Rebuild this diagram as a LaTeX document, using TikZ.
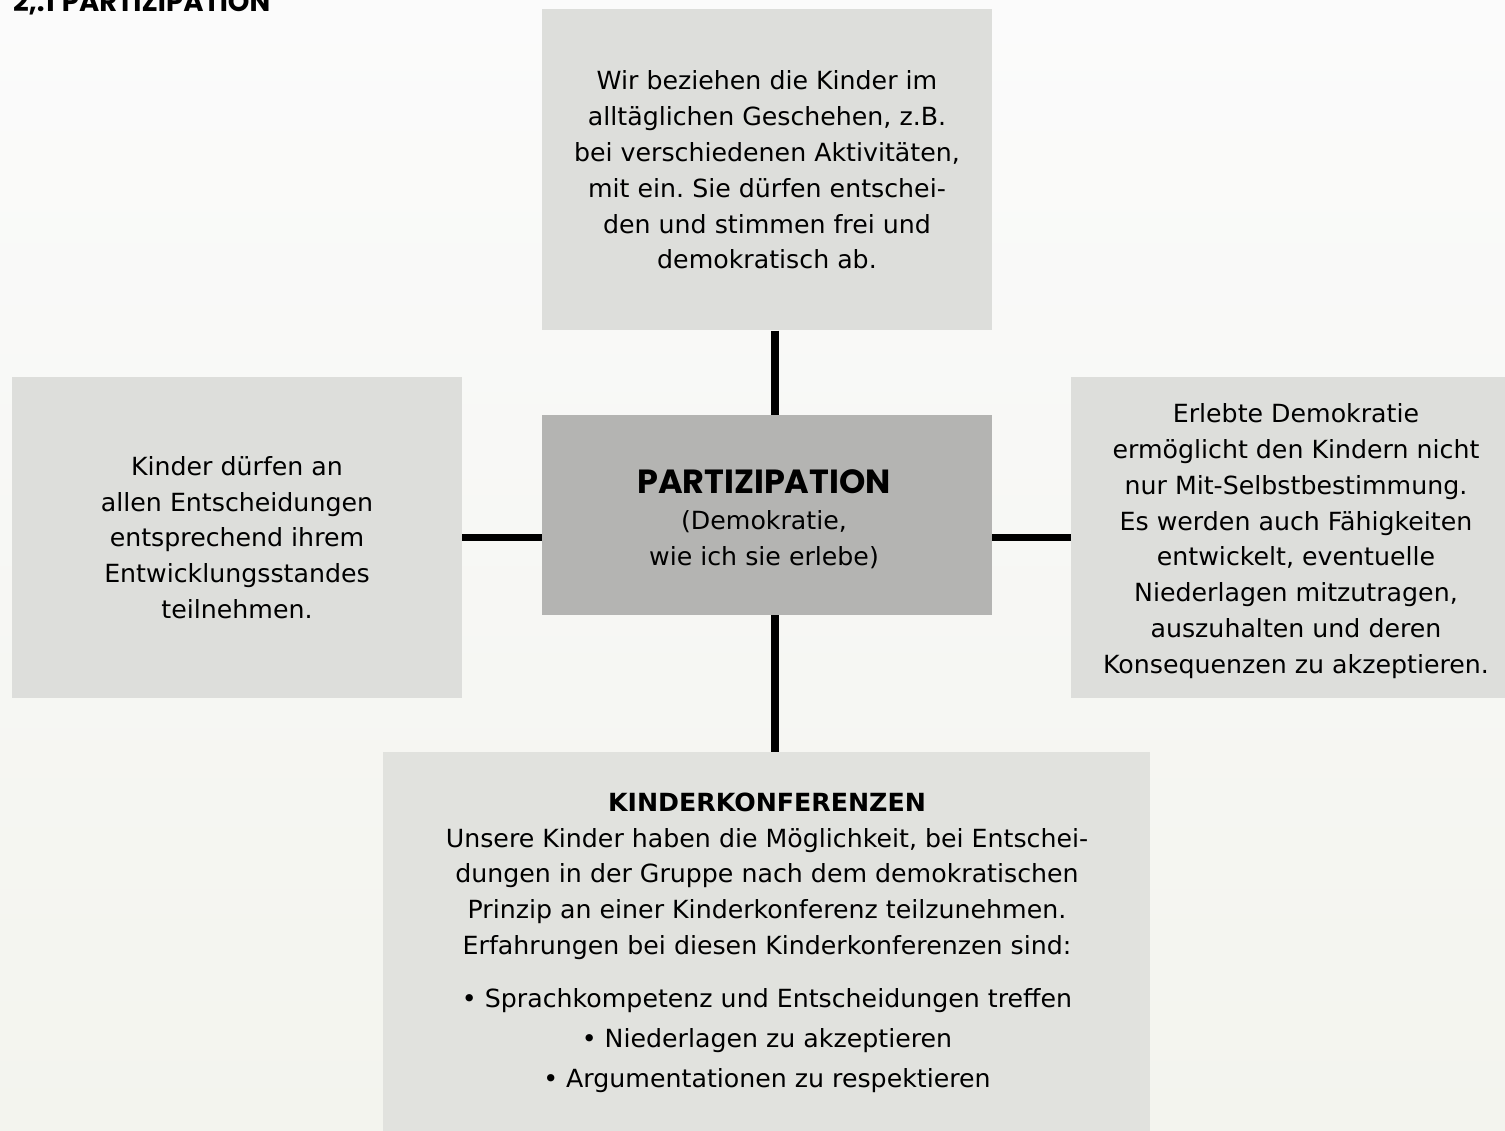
\documentclass[tikz,border=0pt]{standalone}
\usepackage{fontspec}
\setmainfont{DejaVu Sans}[FakeStretch=1.01]
\newfontfamily\gothic{Poppins}
\usetikzlibrary{calc}
\definecolor{bgtop}{RGB}{251,251,251}
\definecolor{bgbot}{RGB}{243,244,238}
\definecolor{boxlight}{RGB}{221,222,219}
\definecolor{boxbottom}{RGB}{225,226,222}
\definecolor{boxdark}{RGB}{180,180,178}
\tikzset{
  txt/.style={font=\frenchspacing\fontsize{25}{35.8}\selectfont, align=center, text=black},
  lightbox/.style={rectangle, fill=boxlight, draw=none, inner sep=0pt, minimum width=450pt, minimum height=321pt, txt},
  darkbox/.style={rectangle, fill=boxdark, draw=none, inner sep=0pt, minimum width=450pt, minimum height=200pt, txt},
  conn/.style={draw=black, line width=7.5pt},
}
\begin{document}
\begin{tikzpicture}[x=1pt,y=-1pt]
\useasboundingbox (0,0) rectangle (1505,1131);
\shade[top color=bgtop, bottom color=bgbot] (0,0) rectangle (1505,1131);
\node[anchor=base west, font=\gothic\bfseries\fontsize{27.5}{27.5}\selectfont, inner sep=0pt] (title) at (13,12) {2,.1\hspace{7pt}PARTIZIPATION};

\node[lightbox] (top) at (767,170) {Wir beziehen die Kinder im\\alltäglichen Geschehen, z.B.\\bei verschiedenen Aktivitäten,\\mit ein. Sie dürfen entschei-\\den und stimmen frei und\\demokratisch ab.};
\node[darkbox] (center) at (767,515) {};
\node[txt, inner sep=0pt] (ctext) at (764,519) {{\gothic\bfseries\fontsize{33.5}{33.5}\selectfont PARTIZIPATION}\\[0pt](Demokratie,\\wie ich sie erlebe)};
\node[lightbox] (left) at (237,537.5) {Kinder dürfen an\\allen Entscheidungen\\entsprechend ihrem\\Entwicklungsstandes\\teilnehmen.};
\node[lightbox] (right) at (1296,537.5) {};
\node[txt, inner sep=0pt] (rtext) at (1296,541) {Erlebte Demokratie\\ermöglicht den Kindern nicht\\nur Mit-Selbstbestimmung.\\Es werden auch Fähigkeiten\\entwickelt, eventuelle\\Niederlagen mitzutragen,\\auszuhalten und deren\\Konsequenzen zu akzeptieren.};
\node[lightbox, fill=boxbottom, minimum width=767pt, minimum height=380pt] (bottom) at (766.5,942) {};
\node[txt, inner sep=0pt] (btext) at (767,943) {\textbf{KINDERKONFERENZEN}\\Unsere Kinder haben die Möglichkeit, bei Entschei-\\dungen in der Gruppe nach dem demokratischen\\Prinzip an einer Kinderkonferenz teilzunehmen.\\Erfahrungen bei diesen Kinderkonferenzen sind:\\[17pt]• Sprachkompetenz und Entscheidungen treffen\\[4.5pt]• Niederlagen zu akzeptieren\\[4.5pt]• Argumentationen zu respektieren};

\draw[conn] ([xshift=8pt]top.south) -- ([xshift=8pt]center.north);
\draw[conn] ([xshift=8pt]center.south) -- ([xshift=8pt]center.south |- bottom.north);
\draw[conn] (left.east) -- (left.east -| center.west);
\draw[conn] (right.west) -- (right.west -| center.east);
\end{tikzpicture}
\end{document}
